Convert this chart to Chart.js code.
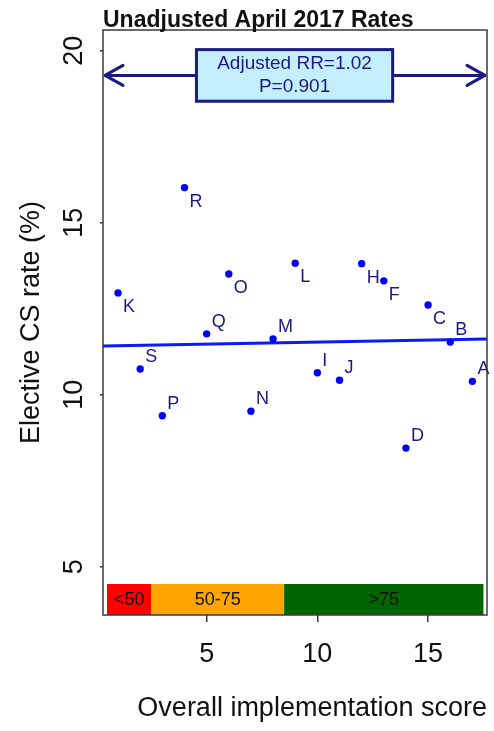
<!DOCTYPE html>
<html>
<head>
<meta charset="utf-8">
<script src="https://cdn.jsdelivr.net/npm/chart.js@4.4.1/dist/chart.umd.min.js"></script>
<style>
  body { margin: 0; background: #fff; }
  canvas { display: block; }
</style>
</head>
<body>
<canvas id="chart" width="494" height="731"></canvas>
<script>
// hospitals, their implementation score and elective CS rate
const sites = ['K', 'S', 'P', 'R', 'Q', 'O', 'N', 'M', 'L', 'I', 'J', 'H', 'F', 'D', 'C', 'B', 'A'];
const scores = [1, 2, 3, 4, 5, 6, 7, 8, 9, 10, 11, 12, 13, 14, 15, 16, 17];
const rates = [12.96, 10.75, 9.39, 16.02, 11.77, 13.51, 9.52, 11.62, 13.82, 10.64, 10.42, 13.81, 13.31, 8.45, 12.61, 11.53, 10.39];

const xTicks = [5, 10, 15];
const yTicks = [5, 10, 15, 20];

// implementation bands along the bottom
const bandLabels = ['<50', '50-75', '>75'];
const bandFrom = [0.5, 2.5, 8.5];
const bandTo = [2.5, 8.5, 17.5];
const bandColors = ['#ff0000', '#ffa500', '#006400'];

// fitted line
const fitIntercept = 11.416;
const fitSlope = 0.01153;
const resultLines = ['Adjusted RR=1.02', 'P=0.901'];

const X_MIN = 0.32, X_MAX = 17.66;
const Y_MIN = 3.6, Y_MAX = 20.6;

const FONT = '"Liberation Sans", Arial, sans-serif';
const NAVY = '#1a1a80';

const fitLine = [X_MIN, X_MAX].map(x => ({ x, y: fitIntercept + fitSlope * x }));

const decorations = {
    id: 'decorations',
    beforeDatasetsDraw(chart) {
        const { ctx, scales: { x, y } } = chart;
        // bands
        ctx.save();
        const top = y.getPixelForValue(4.5);
        const bottom = y.getPixelForValue(Y_MIN);
        bandLabels.forEach((label, i) => {
            const x0 = x.getPixelForValue(bandFrom[i]);
            const x1 = x.getPixelForValue(bandTo[i]);
            ctx.fillStyle = bandColors[i];
            ctx.fillRect(x0, top, x1 - x0, bottom - top);
            ctx.fillStyle = '#111';
            ctx.font = '18px ' + FONT;
            ctx.textAlign = 'center';
            ctx.textBaseline = 'middle';
            ctx.fillText(label, (x0 + x1) / 2, (top + bottom) / 2 + 1);
        });
        ctx.restore();
    },
    afterDatasetsDraw(chart) {
        const { ctx, chartArea: a, scales: { x, y } } = chart;
        ctx.save();

        // point labels
        const meta = chart.getDatasetMeta(0);
        ctx.fillStyle = NAVY;
        ctx.font = '18px ' + FONT;
        ctx.textAlign = 'left';
        ctx.textBaseline = 'middle';
        meta.data.forEach((pt, i) => {
            const dy = rates[i] > 12 ? 14 : -12;
            ctx.fillText(sites[i], pt.x + 5, pt.y + dy);
        });

        // double arrow with result box
        const ay = y.getPixelForValue(19.28);
        const left = a.left + 2, right = a.right - 2;
        ctx.strokeStyle = NAVY;
        ctx.lineWidth = 3;
        ctx.lineCap = 'round';
        ctx.lineJoin = 'round';
        ctx.beginPath();
        ctx.moveTo(left, ay);
        ctx.lineTo(right, ay);
        ctx.moveTo(left + 18, ay - 10);
        ctx.lineTo(left, ay);
        ctx.lineTo(left + 18, ay + 10);
        ctx.moveTo(right - 18, ay - 10);
        ctx.lineTo(right, ay);
        ctx.lineTo(right - 18, ay + 10);
        ctx.stroke();

        const bx0 = x.getPixelForValue(4.54), bx1 = x.getPixelForValue(13.4);
        const by0 = y.getPixelForValue(20.03), by1 = y.getPixelForValue(18.53);
        ctx.fillStyle = '#c4eefc';
        ctx.fillRect(bx0, by0, bx1 - bx0, by1 - by0);
        ctx.lineCap = 'butt';
        ctx.lineJoin = 'miter';
        ctx.strokeRect(bx0, by0, bx1 - bx0, by1 - by0);
        ctx.fillStyle = NAVY;
        ctx.font = '19px ' + FONT;
        ctx.textAlign = 'center';
        ctx.textBaseline = 'middle';
        const cx = (bx0 + bx1) / 2;
        ctx.fillText(resultLines[0], cx, by0 + 14);
        ctx.fillText(resultLines[1], cx, by0 + 37);
        ctx.restore();
    },
    afterDraw(chart) {
        const { ctx, chartArea: a, scales: { y } } = chart;
        ctx.save();
        // frame
        ctx.strokeStyle = '#3a3a3a';
        ctx.lineWidth = 1.5;
        ctx.strokeRect(a.left, a.top, a.right - a.left, a.bottom - a.top);

        // rotated y tick labels
        ctx.fillStyle = '#111';
        ctx.font = '27px ' + FONT;
        ctx.textAlign = 'center';
        ctx.textBaseline = 'alphabetic';
        yTicks.forEach(v => {
            ctx.save();
            ctx.translate(82, y.getPixelForValue(v));
            ctx.rotate(-Math.PI / 2);
            ctx.fillText(String(v), 0, 0);
            ctx.restore();
        });

        // title
        ctx.fillStyle = '#111';
        ctx.font = 'bold 23px ' + FONT;
        ctx.textAlign = 'left';
        ctx.fillText('Unadjusted April 2017 Rates', a.left, 27);
        ctx.restore();
    }
};

new Chart(document.getElementById('chart'), {
    type: 'scatter',
    data: {
        datasets: [{
            data: scores.map((s, i) => ({ x: s, y: rates[i] })),
            backgroundColor: '#0000ff',
            borderWidth: 0,
            pointRadius: 3.7
        }, {
            type: 'line',
            data: fitLine,
            borderColor: '#0a1aff',
            borderWidth: 3,
            pointRadius: 0,
            fill: false
        }]
    },
    options: {
        responsive: false,
        animation: false,
        layout: { padding: { top: 30, right: 7, left: 0, bottom: 0 } },
        plugins: {
            legend: { display: false },
            tooltip: { enabled: false },
            title: { display: false }
        },
        scales: {
            x: {
                type: 'linear',
                min: X_MIN,
                max: X_MAX,
                afterBuildTicks: s => { s.ticks = xTicks.map(v => ({ value: v })); },
                afterFit: s => { s.height = 116; },
                grid: { drawOnChartArea: false, tickLength: 7, color: '#3a3a3a', lineWidth: 1.5 },
                border: { display: false },
                ticks: {
                    color: '#111',
                    font: { family: FONT, size: 27 },
                    padding: 16,
                    maxRotation: 0
                },
                title: {
                    display: true,
                    text: 'Overall implementation score',
                    align: 'end',
                    color: '#111',
                    font: { family: FONT, size: 27 },
                    padding: { top: 0, bottom: 6 }
                }
            },
            y: {
                type: 'linear',
                min: Y_MIN,
                max: Y_MAX,
                afterBuildTicks: s => { s.ticks = yTicks.map(v => ({ value: v })); },
                afterFit: s => { s.width = 103; },
                grid: { drawOnChartArea: false, tickLength: 3, color: '#3a3a3a', lineWidth: 1.5 },
                border: { display: false },
                ticks: { display: false },
                title: {
                    display: true,
                    text: 'Elective CS rate (%)',
                    color: '#111',
                    font: { family: FONT, size: 27 },
                    padding: { top: 15, bottom: 0 }
                }
            }
        }
    },
    plugins: [decorations]
});
</script>
</body>
</html>
